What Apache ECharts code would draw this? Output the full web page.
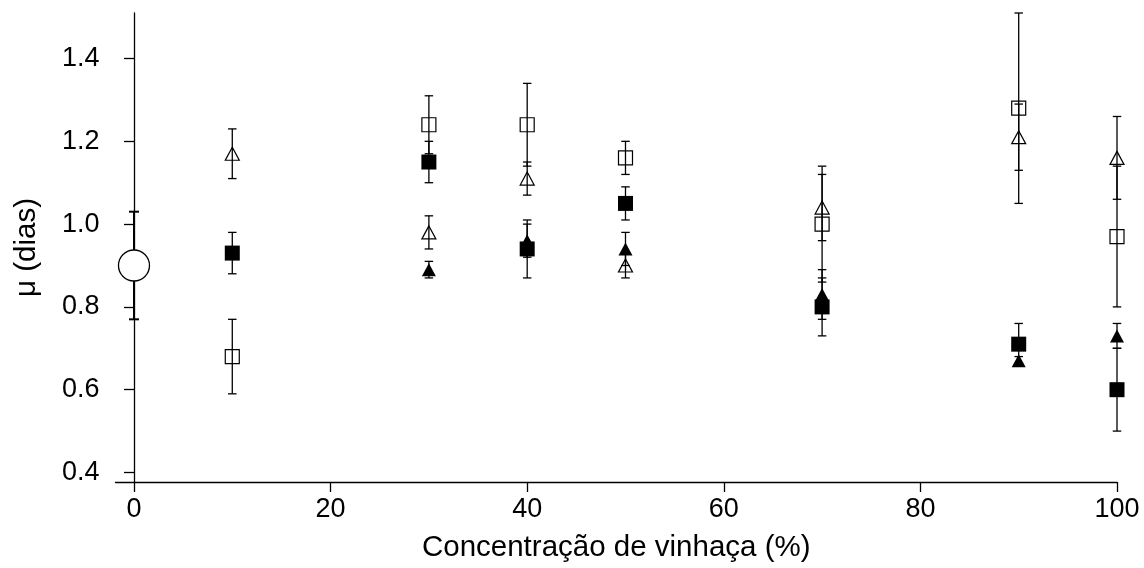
<!DOCTYPE html>
<html lang="pt">
<head>
    <meta charset="UTF-8">
    <title>μ x concentração de vinhaça</title>
    <style>
        html, body { margin: 0; padding: 0; background: #fff; }
        #chart { width: 1144px; height: 568px; }
    </style>
</head>
<body>
<div id="chart"></div>
<script src="https://cdn.jsdelivr.net/npm/echarts@6/dist/echarts.min.js"></script>
<script>
    // eixo x: concentrações de vinhaça (%)
    var concentracoes = [10, 30, 40, 50, 70, 90, 100];

    // controle (0 %)
    var controleX = [0];
    var controleMedia = [0.90];
    var controleErro = [0.13];

    // triângulo aberto
    var trianguloAberto = [1.17, 0.98, 1.11, 0.90, 1.04, 1.21, 1.16];
    var trianguloAbertoErro = [0.06, 0.04, 0.04, 0.03, 0.08, 0.08, 0.10];

    // quadrado cheio
    var quadradoCheio = [0.93, 1.15, 0.94, 1.05, 0.80, 0.71, 0.60];
    var quadradoCheioErro = [0.05, 0.05, 0.07, 0.04, 0.07, 0.05, 0.10];

    // quadrado aberto
    var quadradoAberto = [0.68, 1.24, 1.24, 1.16, 1.00, 1.28, 0.97];
    var quadradoAbertoErro = [0.09, 0.07, 0.10, 0.04, 0.14, 0.23, 0.17];

    // triângulo cheio (sem valor em 10 %)
    var trianguloCheio = [null, 0.89, 0.96, 0.94, 0.83, 0.67, 0.73];
    var trianguloCheioErro = [null, 0.02, 0.04, 0.04, 0.06, 0.01, 0.03];

    // marcas dos eixos
    var ticksX = [0, 20, 40, 60, 80, 100];
    var ticksY = [0.4, 0.6, 0.8, 1.0, 1.2, 1.4];

    var fonte = "'Liberation Sans', Arial, sans-serif";

    function pontos(xs, ys) {
        var out = [];
        for (var i = 0; i < xs.length; i++) {
            if (ys[i] == null) continue;
            out.push([xs[i], ys[i]]);
        }
        return out;
    }

    function barras(xs, ys, es) {
        var out = [];
        for (var i = 0; i < xs.length; i++) {
            if (ys[i] == null) continue;
            out.push([xs[i], ys[i] - es[i], ys[i] + es[i]]);
        }
        return out;
    }

    function serieErro(dados, largura, espessura) {
        return {
            type: 'custom',
            z: 1,
            silent: true,
            data: dados,
            encode: { x: 0, y: [1, 2] },
            renderItem: function (params, api) {
                var x = api.value(0);
                var baixo = api.coord([x, api.value(1)]);
                var alto = api.coord([x, api.value(2)]);
                var h = largura / 2;
                var estilo = { stroke: '#000', lineWidth: espessura };
                return {
                    type: 'group',
                    children: [
                        { type: 'line', shape: { x1: baixo[0], y1: baixo[1], x2: alto[0], y2: alto[1] }, style: estilo },
                        { type: 'line', shape: { x1: alto[0] - h, y1: alto[1], x2: alto[0] + h, y2: alto[1] }, style: estilo },
                        { type: 'line', shape: { x1: baixo[0] - h, y1: baixo[1], x2: baixo[0] + h, y2: baixo[1] }, style: estilo }
                    ]
                };
            }
        };
    }

    function serieMarca(dados, simbolo, tamanho, cheio) {
        return {
            type: 'scatter',
            z: 3,
            data: dados,
            symbol: simbolo,
            symbolSize: tamanho,
            itemStyle: {
                color: cheio ? '#000' : 'rgba(0,0,0,0)',
                borderColor: '#000',
                borderWidth: cheio ? 0 : 1.2,
                opacity: 1
            },
            emphasis: { disabled: true }
        };
    }

    var chart = echarts.init(document.getElementById('chart'), null, { renderer: 'canvas' });

    var option = {
        backgroundColor: '#fff',
        animation: false,
        grid: { left: 115.5, right: 27, top: 13, bottom: 84 },
        xAxis: {
            type: 'value',
            min: -1.88,
            max: 100,
            name: 'Concentração de vinhaça (%)',
            nameLocation: 'middle',
            nameGap: 51,
            nameTextStyle: { color: '#000', fontSize: 29.5, fontFamily: fonte },
            axisLine: { lineStyle: { color: '#000', width: 1.3 } },
            axisTick: { show: true, length: 10, lineStyle: { color: '#000', width: 1.3 }, customValues: ticksX },
            axisLabel: { color: '#000', fontSize: 27, fontFamily: fonte, margin: 14, customValues: ticksX },
            splitLine: { show: false }
        },
        yAxis: {
            type: 'value',
            min: 0.377,
            max: 1.51,
            name: 'μ (dias)',
            nameLocation: 'middle',
            nameGap: 74,
            nameTextStyle: { color: '#000', fontSize: 29.5, fontFamily: fonte },
            axisLine: { show: true, lineStyle: { color: '#000', width: 1.3 } },
            axisTick: { show: true, length: 10, lineStyle: { color: '#000', width: 1.3 }, customValues: ticksY },
            axisLabel: {
                color: '#000', fontSize: 27, fontFamily: fonte, margin: 16, customValues: ticksY,
                formatter: function (v) { return v.toFixed(1); }
            },
            splitLine: { show: false }
        },
        series: [
            serieErro(barras(controleX, controleMedia, controleErro), 10, 2),
            serieErro(barras(concentracoes, trianguloAberto, trianguloAbertoErro), 8.5, 1.3),
            serieErro(barras(concentracoes, quadradoCheio, quadradoCheioErro), 8.5, 1.3),
            serieErro(barras(concentracoes, quadradoAberto, quadradoAbertoErro), 8.5, 1.3),
            serieErro(barras(concentracoes, trianguloCheio, trianguloCheioErro), 8.5, 1.3),
            {
                type: 'scatter',
                z: 3,
                data: pontos(controleX, controleMedia),
                symbol: 'circle',
                symbolSize: 31,
                itemStyle: { color: '#fff', borderColor: '#000', borderWidth: 1.3, opacity: 1 },
                emphasis: { disabled: true }
            },
            serieMarca(pontos(concentracoes, trianguloAberto), 'triangle', [14, 13], false),
            serieMarca(pontos(concentracoes, quadradoCheio), 'rect', 15, true),
            serieMarca(pontos(concentracoes, quadradoAberto), 'rect', 14, false),
            serieMarca(pontos(concentracoes, trianguloCheio), 'triangle', [14, 13], true)
        ]
    };

    chart.setOption(option);
</script>
</body>
</html>
